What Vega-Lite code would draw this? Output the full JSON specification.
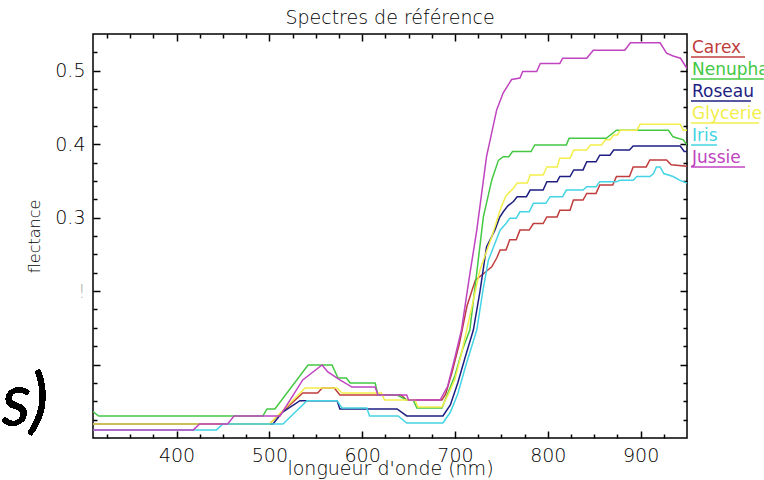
{
  "$schema": "https://vega.github.io/schema/vega-lite/v6.json",
  "width": 594,
  "height": 404,
  "autosize": {"type": "none"},
  "padding": {"left": 93, "top": 34, "right": 77, "bottom": 42},
  "background": "white",
  "title": {"text": "Spectres de référence", "font": "DejaVu Sans", "fontSize": 19, "fontWeight": 200, "color": "#000", "offset": 5},
  "config": {
    "view": {"stroke": "black", "strokeWidth": 1.5},
    "axis": {"domain": false, "grid": false, "tickColor": "black", "tickWidth": 1.5, "labelFont": "DejaVu Sans", "labelFontWeight": 200, "labelFontSize": 19, "labelColor": "#000", "titleFont": "DejaVu Sans", "titleFontWeight": 200, "titleColor": "#000"}
  },
  "data": {"values": [
    {"s":"Carex","w":310,"r":0.019},{"s":"Carex","w":500,"r":0.019},{"s":"Carex","w":536,"r":0.0613},{"s":"Carex","w":552,"r":0.0613},{"s":"Carex","w":557,"r":0.068},{"s":"Carex","w":570,"r":0.068},{"s":"Carex","w":576,"r":0.0585},{"s":"Carex","w":642,"r":0.0585},{"s":"Carex","w":648,"r":0.0517},{"s":"Carex","w":686,"r":0.0517},{"s":"Carex","w":690,"r":0.06},{"s":"Carex","w":697,"r":0.09},{"s":"Carex","w":705,"r":0.13},{"s":"Carex","w":713,"r":0.18},{"s":"Carex","w":722,"r":0.215},{"s":"Carex","w":732,"r":0.225},{"s":"Carex","w":739.6,"r":0.233},{"s":"Carex","w":745,"r":0.245},{"s":"Carex","w":748.6,"r":0.256},{"s":"Carex","w":755,"r":0.256},{"s":"Carex","w":759,"r":0.27},{"s":"Carex","w":766,"r":0.27},{"s":"Carex","w":770,"r":0.283},{"s":"Carex","w":780,"r":0.283},{"s":"Carex","w":784.5,"r":0.292},{"s":"Carex","w":795,"r":0.292},{"s":"Carex","w":799,"r":0.301},{"s":"Carex","w":810,"r":0.301},{"s":"Carex","w":813,"r":0.31},{"s":"Carex","w":824,"r":0.31},{"s":"Carex","w":827.6,"r":0.324},{"s":"Carex","w":838,"r":0.324},{"s":"Carex","w":842,"r":0.333},{"s":"Carex","w":852,"r":0.333},{"s":"Carex","w":856,"r":0.3445},{"s":"Carex","w":870,"r":0.3445},{"s":"Carex","w":874,"r":0.356},{"s":"Carex","w":888,"r":0.356},{"s":"Carex","w":892,"r":0.369},{"s":"Carex","w":906,"r":0.369},{"s":"Carex","w":910,"r":0.3785},{"s":"Carex","w":928,"r":0.3785},{"s":"Carex","w":933,"r":0.372},{"s":"Carex","w":950,"r":0.37},

    {"s":"Nenuphar","w":310,"r":0.036},{"s":"Nenuphar","w":316,"r":0.03},{"s":"Nenuphar","w":493,"r":0.03},{"s":"Nenuphar","w":497.5,"r":0.0395},{"s":"Nenuphar","w":506,"r":0.0395},{"s":"Nenuphar","w":541.7,"r":0.0994},{"s":"Nenuphar","w":567.5,"r":0.0994},{"s":"Nenuphar","w":574,"r":0.0817},{"s":"Nenuphar","w":583,"r":0.0817},{"s":"Nenuphar","w":587,"r":0.0749},{"s":"Nenuphar","w":614,"r":0.0749},{"s":"Nenuphar","w":617,"r":0.0585},{"s":"Nenuphar","w":637.6,"r":0.0585},{"s":"Nenuphar","w":648,"r":0.0517},{"s":"Nenuphar","w":655,"r":0.0517},{"s":"Nenuphar","w":659,"r":0.0408},{"s":"Nenuphar","w":686,"r":0.0408},{"s":"Nenuphar","w":692,"r":0.06},{"s":"Nenuphar","w":700,"r":0.085},{"s":"Nenuphar","w":708,"r":0.12},{"s":"Nenuphar","w":716,"r":0.147},{"s":"Nenuphar","w":723,"r":0.22},{"s":"Nenuphar","w":730.6,"r":0.301},{"s":"Nenuphar","w":739.6,"r":0.351},{"s":"Nenuphar","w":746.8,"r":0.378},{"s":"Nenuphar","w":752,"r":0.383},{"s":"Nenuphar","w":758,"r":0.383},{"s":"Nenuphar","w":762,"r":0.39},{"s":"Nenuphar","w":782,"r":0.39},{"s":"Nenuphar","w":786,"r":0.399},{"s":"Nenuphar","w":820,"r":0.399},{"s":"Nenuphar","w":823,"r":0.408},{"s":"Nenuphar","w":863,"r":0.408},{"s":"Nenuphar","w":874,"r":0.419},{"s":"Nenuphar","w":930,"r":0.419},{"s":"Nenuphar","w":935,"r":0.41},{"s":"Nenuphar","w":946,"r":0.406},{"s":"Nenuphar","w":950,"r":0.399},

    {"s":"Roseau","w":310,"r":0.019},{"s":"Roseau","w":504,"r":0.019},{"s":"Roseau","w":514,"r":0.035},{"s":"Roseau","w":520,"r":0.04},{"s":"Roseau","w":533,"r":0.0508},{"s":"Roseau","w":573,"r":0.0508},{"s":"Roseau","w":576,"r":0.0395},{"s":"Roseau","w":637.6,"r":0.0395},{"s":"Roseau","w":648,"r":0.03},{"s":"Roseau","w":687,"r":0.03},{"s":"Roseau","w":695,"r":0.045},{"s":"Roseau","w":703,"r":0.075},{"s":"Roseau","w":711,"r":0.11},{"s":"Roseau","w":719.8,"r":0.147},{"s":"Roseau","w":727,"r":0.2},{"s":"Roseau","w":734,"r":0.26},{"s":"Roseau","w":743,"r":0.283},{"s":"Roseau","w":748,"r":0.3},{"s":"Roseau","w":752,"r":0.308},{"s":"Roseau","w":757,"r":0.316},{"s":"Roseau","w":763,"r":0.322},{"s":"Roseau","w":767,"r":0.3285},{"s":"Roseau","w":777,"r":0.3285},{"s":"Roseau","w":781,"r":0.3376},{"s":"Roseau","w":795,"r":0.3376},{"s":"Roseau","w":799,"r":0.349},{"s":"Roseau","w":810,"r":0.349},{"s":"Roseau","w":813,"r":0.356},{"s":"Roseau","w":824,"r":0.356},{"s":"Roseau","w":828,"r":0.365},{"s":"Roseau","w":838,"r":0.365},{"s":"Roseau","w":842,"r":0.376},{"s":"Roseau","w":852,"r":0.376},{"s":"Roseau","w":856,"r":0.385},{"s":"Roseau","w":867,"r":0.385},{"s":"Roseau","w":871,"r":0.392},{"s":"Roseau","w":888,"r":0.392},{"s":"Roseau","w":892,"r":0.3975},{"s":"Roseau","w":942.7,"r":0.3975},{"s":"Roseau","w":947,"r":0.39},{"s":"Roseau","w":950,"r":0.39},

    {"s":"Glycerie","w":310,"r":0.019},{"s":"Glycerie","w":500,"r":0.019},{"s":"Glycerie","w":538.5,"r":0.068},{"s":"Glycerie","w":573,"r":0.068},{"s":"Glycerie","w":578.3,"r":0.0613},{"s":"Glycerie","w":621,"r":0.0613},{"s":"Glycerie","w":624,"r":0.0517},{"s":"Glycerie","w":657,"r":0.0517},{"s":"Glycerie","w":660,"r":0.0422},{"s":"Glycerie","w":686,"r":0.0422},{"s":"Glycerie","w":693,"r":0.06},{"s":"Glycerie","w":700,"r":0.08},{"s":"Glycerie","w":706,"r":0.11},{"s":"Glycerie","w":712.7,"r":0.147},{"s":"Glycerie","w":727,"r":0.229},{"s":"Glycerie","w":739.6,"r":0.274},{"s":"Glycerie","w":750,"r":0.315},{"s":"Glycerie","w":755,"r":0.33},{"s":"Glycerie","w":763,"r":0.34},{"s":"Glycerie","w":767,"r":0.347},{"s":"Glycerie","w":778,"r":0.347},{"s":"Glycerie","w":781,"r":0.358},{"s":"Glycerie","w":795,"r":0.358},{"s":"Glycerie","w":799,"r":0.369},{"s":"Glycerie","w":810,"r":0.369},{"s":"Glycerie","w":813,"r":0.381},{"s":"Glycerie","w":824,"r":0.381},{"s":"Glycerie","w":828,"r":0.392},{"s":"Glycerie","w":842,"r":0.392},{"s":"Glycerie","w":846,"r":0.399},{"s":"Glycerie","w":858,"r":0.399},{"s":"Glycerie","w":862,"r":0.406},{"s":"Glycerie","w":867,"r":0.406},{"s":"Glycerie","w":871,"r":0.4125},{"s":"Glycerie","w":875,"r":0.4125},{"s":"Glycerie","w":878,"r":0.419},{"s":"Glycerie","w":896,"r":0.419},{"s":"Glycerie","w":899.5,"r":0.427},{"s":"Glycerie","w":942.7,"r":0.427},{"s":"Glycerie","w":946,"r":0.419},{"s":"Glycerie","w":950,"r":0.419},

    {"s":"Iris","w":310,"r":0.011},{"s":"Iris","w":443,"r":0.011},{"s":"Iris","w":450,"r":0.019},{"s":"Iris","w":514.7,"r":0.019},{"s":"Iris","w":540.6,"r":0.0508},{"s":"Iris","w":573,"r":0.0508},{"s":"Iris","w":578.3,"r":0.0408},{"s":"Iris","w":605,"r":0.0408},{"s":"Iris","w":608,"r":0.03},{"s":"Iris","w":638.7,"r":0.03},{"s":"Iris","w":648,"r":0.0204},{"s":"Iris","w":687,"r":0.0204},{"s":"Iris","w":695,"r":0.035},{"s":"Iris","w":703,"r":0.06},{"s":"Iris","w":712,"r":0.1},{"s":"Iris","w":723.5,"r":0.147},{"s":"Iris","w":730,"r":0.2},{"s":"Iris","w":736,"r":0.242},{"s":"Iris","w":748.6,"r":0.283},{"s":"Iris","w":755,"r":0.292},{"s":"Iris","w":759,"r":0.299},{"s":"Iris","w":766,"r":0.299},{"s":"Iris","w":770,"r":0.308},{"s":"Iris","w":780,"r":0.308},{"s":"Iris","w":784.5,"r":0.3195},{"s":"Iris","w":798,"r":0.3195},{"s":"Iris","w":802.5,"r":0.3285},{"s":"Iris","w":816,"r":0.3285},{"s":"Iris","w":820,"r":0.3376},{"s":"Iris","w":838,"r":0.3376},{"s":"Iris","w":842,"r":0.342},{"s":"Iris","w":852,"r":0.342},{"s":"Iris","w":856,"r":0.349},{"s":"Iris","w":874,"r":0.349},{"s":"Iris","w":878,"r":0.351},{"s":"Iris","w":892,"r":0.351},{"s":"Iris","w":896,"r":0.356},{"s":"Iris","w":910,"r":0.356},{"s":"Iris","w":914,"r":0.36},{"s":"Iris","w":917,"r":0.369},{"s":"Iris","w":921,"r":0.369},{"s":"Iris","w":925,"r":0.36},{"s":"Iris","w":935,"r":0.356},{"s":"Iris","w":942,"r":0.351},{"s":"Iris","w":950,"r":0.347},

    {"s":"Jussie","w":310,"r":0.011},{"s":"Jussie","w":418,"r":0.011},{"s":"Jussie","w":425,"r":0.019},{"s":"Jussie","w":455,"r":0.019},{"s":"Jussie","w":462,"r":0.03},{"s":"Jussie","w":511.5,"r":0.03},{"s":"Jussie","w":536,"r":0.079},{"s":"Jussie","w":556.8,"r":0.0994},{"s":"Jussie","w":563,"r":0.0899},{"s":"Jussie","w":576,"r":0.079},{"s":"Jussie","w":589,"r":0.0694},{"s":"Jussie","w":614,"r":0.0694},{"s":"Jussie","w":617,"r":0.0585},{"s":"Jussie","w":648,"r":0.0585},{"s":"Jussie","w":650,"r":0.0517},{"s":"Jussie","w":684,"r":0.0517},{"s":"Jussie","w":692,"r":0.07},{"s":"Jussie","w":700,"r":0.11},{"s":"Jussie","w":707,"r":0.147},{"s":"Jussie","w":715,"r":0.215},{"s":"Jussie","w":723.5,"r":0.283},{"s":"Jussie","w":734,"r":0.383},{"s":"Jussie","w":745,"r":0.447},{"s":"Jussie","w":752,"r":0.47},{"s":"Jussie","w":761,"r":0.488},{"s":"Jussie","w":770,"r":0.49},{"s":"Jussie","w":773,"r":0.499},{"s":"Jussie","w":788,"r":0.499},{"s":"Jussie","w":792,"r":0.51},{"s":"Jussie","w":813,"r":0.51},{"s":"Jussie","w":816,"r":0.517},{"s":"Jussie","w":842,"r":0.517},{"s":"Jussie","w":849,"r":0.528},{"s":"Jussie","w":883,"r":0.528},{"s":"Jussie","w":889,"r":0.538},{"s":"Jussie","w":921,"r":0.538},{"s":"Jussie","w":928,"r":0.524},{"s":"Jussie","w":935,"r":0.52},{"s":"Jussie","w":943,"r":0.517},{"s":"Jussie","w":950,"r":0.503}
  ]},
  "resolve": {"axis": {"x": "independent", "y": "independent"}},
  "layer": [
    {
      "mark": {"type": "line", "strokeWidth": 1.5, "clip": true},
      "encoding": {
        "x": {"field": "w", "type": "quantitative", "scale": {"domain": [310, 950], "nice": false, "zero": false},
          "axis": {"orient": "bottom", "values": [400, 500, 600, 700, 800, 900], "ticks": false,
            "labelPadding": 8, "labelFlush": false, "labelOverlap": false,
            "title": "longueur d'onde (nm)", "titleFontSize": 19, "titlePadding": -6}},
        "y": {"field": "r", "type": "quantitative", "scale": {"domain": [0, 0.55], "nice": false, "zero": false},
          "axis": {"orient": "left", "values": [0.2, 0.3, 0.4, 0.5], "ticks": false,
            "labelExpr": "abs(datum.value - 0.2) < 0.001 ? '!' : format(datum.value, '.1f')",
            "labelColor": {"condition": {"test": "abs(datum.value - 0.2) < 0.001", "value": "#aaaaaa"}, "value": "#000000"},
            "labelPadding": 8, "labelOverlap": false, "labelFlush": false,
            "title": "flectance", "titleFontSize": 16, "titlePadding": 12}},
        "color": {"field": "s", "type": "nominal",
          "scale": {"domain": ["Carex", "Nenuphar", "Roseau", "Glycerie", "Iris", "Jussie"], "range": ["#c03c3c", "#44c844", "#1e1e82", "#f2ee4a", "#44d4e4", "#c044c0"]},
          "legend": {"orient": "right", "offset": -1, "padding": 3, "title": null,
            "symbolType": "M-1,0.32L1,0.32", "symbolSize": 3136, "symbolStrokeWidth": 1.5,
            "labelOffset": -56, "labelFont": "DejaVu Sans", "labelFontWeight": "normal", "labelFontSize": 17, "labelLimit": 300,
            "clipHeight": 22, "rowPadding": 0,
            "encode": {
              "labels": {"update": {"fill": {"scale": "color", "field": "value"}}},
              "symbols": {"update": {"shape": {"signal": "datum.value === 'Iris' ? 'M-1,0.32L-0.07,0.32' : datum.value === 'Roseau' ? 'M-1,0.32L1.14,0.32' : datum.value === 'Glycerie' ? 'M-1,0.32L1.43,0.32' : datum.value === 'Nenuphar' ? 'M-1,0.32L1.6,0.32' : 'M-1,0.32L0.93,0.32'"}}}
            }}}
      }
    },
    {
      "mark": {"type": "text", "text": "s)", "font": "Lato", "fontStyle": "italic", "fontSize": 72, "align": "left", "baseline": "alphabetic", "color": "black"},
      "encoding": {
        "x": {"datum": 212, "type": "quantitative",
          "axis": {"orient": "top", "values": [400, 500, 600, 700, 800, 900], "offset": -7, "tickSize": 7, "labels": false, "title": null}},
        "y": {"datum": 0.0177, "type": "quantitative",
          "axis": {"orient": "right", "values": [0.1, 0.2, 0.3, 0.4, 0.5], "offset": -7, "tickSize": 7, "labels": false, "title": null}}
      }
    },
    {
      "mark": {"type": "point", "opacity": 0},
      "encoding": {
        "x": {"datum": 400, "type": "quantitative",
          "axis": {"orient": "bottom", "values": [400, 500, 600, 700, 800, 900], "offset": -7, "tickSize": 7, "labels": false, "title": null}},
        "y": {"datum": 0.2, "type": "quantitative",
          "axis": {"orient": "left", "values": [0.1, 0.2, 0.3, 0.4, 0.5], "offset": -7, "tickSize": 7, "labels": false, "title": null}}
      }
    },
    {
      "mark": {"type": "point", "opacity": 0},
      "encoding": {
        "x": {"datum": 400, "type": "quantitative",
          "axis": {"orient": "top", "values": [325,350,375,425,450,475,525,550,575,625,650,675,725,750,775,825,850,875,925], "offset": -4, "tickSize": 4, "labels": false, "title": null}},
        "y": {"datum": 0.2, "type": "quantitative",
          "axis": {"orient": "right", "values": [0.025,0.05,0.075,0.125,0.15,0.175,0.225,0.25,0.275,0.325,0.35,0.375,0.425,0.45,0.475,0.525], "offset": -4, "tickSize": 4, "labels": false, "title": null}}
      }
    },
    {
      "mark": {"type": "point", "opacity": 0},
      "encoding": {
        "x": {"datum": 400, "type": "quantitative",
          "axis": {"orient": "bottom", "values": [325,350,375,425,450,475,525,550,575,625,650,675,725,750,775,825,850,875,925], "offset": -4, "tickSize": 4, "labels": false, "title": null}},
        "y": {"datum": 0.2, "type": "quantitative",
          "axis": {"orient": "left", "values": [0.025,0.05,0.075,0.125,0.15,0.175,0.225,0.25,0.275,0.325,0.35,0.375,0.425,0.45,0.475,0.525], "offset": -4, "tickSize": 4, "labels": false, "title": null}}
      }
    }
  ]
}
